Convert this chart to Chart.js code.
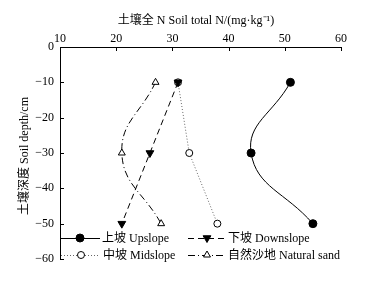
<!DOCTYPE html>
<html>
<head>
<meta charset="utf-8">
<script src="https://cdn.jsdelivr.net/npm/chart.js@4.4.1/dist/chart.umd.min.js"></script>
<style>
  html, body { margin: 0; padding: 0; background: #fff; }
  #wrap { width: 369px; height: 281px; position: relative; }
</style>
</head>
<body>
<div id="wrap"><canvas id="soilChart"></canvas></div>
<script>
const depth = [-10, -30, -50];
const upslope = [51, 44, 55];
const downslope = [31, 26, 21];
const midslope = [31, 33, 38];
const naturalSand = [27, 21, 28];

const xTicks = [10, 20, 30, 40, 50, 60];
const yTicks = [0, -10, -20, -30, -40, -50, -60];

const FONT = '"Liberation Serif", "Times New Roman", "Noto Sans CJK SC", serif';

function toPoints(vals) {
  return vals.map((v, i) => ({ x: v, y: depth[i] }));
}

const series = [
  {
    label: '上坡 Upslope', data: toPoints(upslope), tension: 0.45,
    borderColor: '#000', borderDash: [], pointStyle: 'circle', pointRadius: 4,
    pointBackgroundColor: '#000', pointRotation: 0, order: 3
  },
  {
    label: '中坡 Midslope', data: toPoints(midslope), tension: 0,
    borderColor: '#666', borderDash: [1, 2], pointStyle: 'circle', pointRadius: 3.5,
    pointBackgroundColor: '#fff', pointRotation: 0, order: 2
  },
  {
    label: '自然沙地 Natural sand', data: toPoints(naturalSand), tension: 0.45,
    borderColor: '#000', borderDash: [7, 3, 1, 3], pointStyle: 'triangle', pointRadius: 4,
    pointBackgroundColor: '#fff', pointRotation: 0, order: 1
  },
  {
    label: '下坡 Downslope', data: toPoints(downslope), tension: 0,
    borderColor: '#000', borderDash: [6, 4], pointStyle: 'triangle', pointRadius: 4.5,
    pointBackgroundColor: '#000', pointRotation: 180, order: 0
  }
];

// legend spots inside the plot area (label index -> position)
const legendSpots = [
  { i: 0, x1: 61, x2: 100, mx: 80, tx: 102, y: 238 },
  { i: 3, x1: 188, x2: 224, mx: 207, tx: 228, y: 238 },
  { i: 1, x1: 61, x2: 100, mx: 81, tx: 103, y: 255 },
  { i: 2, x1: 188, x2: 224, mx: 207, tx: 228, y: 255 }
];

const extras = {
  id: 'extras',
  afterDraw(chart) {
    const ctx = chart.ctx;
    const xs = chart.scales.x, ys = chart.scales.y;
    const area = chart.chartArea;
    ctx.save();
    ctx.strokeStyle = '#000';
    ctx.lineWidth = 1;
    ctx.setLineDash([]);
    // inward ticks
    ctx.beginPath();
    xTicks.forEach(v => {
      const px = Math.round(xs.getPixelForValue(v)) + 0.5;
      ctx.moveTo(px, area.top);
      ctx.lineTo(px, area.top + 4);
    });
    yTicks.forEach(v => {
      const py = Math.round(ys.getPixelForValue(v)) + 0.5;
      ctx.moveTo(area.left, py);
      ctx.lineTo(area.left + 4, py);
    });
    ctx.stroke();

    // titles
    ctx.fillStyle = '#000';
    ctx.font = '12px ' + FONT;
    ctx.textAlign = 'center';
    ctx.textBaseline = 'middle';
    ctx.fillText('土壤全 N Soil total N/(mg·kg⁻¹)', 196, 21);
    ctx.save();
    ctx.translate(25, 156);
    ctx.rotate(-Math.PI / 2);
    ctx.fillText('土壤深度 Soil depth/cm', 0, 0);
    ctx.restore();

    // legend
    ctx.textAlign = 'left';
    legendSpots.forEach(s => {
      const d = series[s.i];
      ctx.save();
      ctx.strokeStyle = d.borderColor;
      ctx.setLineDash(d.borderDash);
      ctx.beginPath();
      ctx.moveTo(s.x1, s.y + 0.5);
      ctx.lineTo(s.x2, s.y + 0.5);
      ctx.stroke();
      ctx.restore();
      ctx.save();
      ctx.fillStyle = d.pointBackgroundColor;
      ctx.strokeStyle = '#000';
      ctx.lineWidth = 1;
      ctx.setLineDash([]);
      Chart.helpers.drawPoint(ctx, {
        pointStyle: d.pointStyle, radius: d.pointRadius,
        rotation: d.pointRotation, borderWidth: 1
      }, s.mx, s.y);
      ctx.restore();
      ctx.fillStyle = '#000';
      ctx.fillText(d.label, s.tx, s.y + 1);
    });
    ctx.restore();
  }
};

new Chart(document.getElementById('soilChart'), {
  type: 'line',
  data: {
    datasets: series.map(d => ({
      label: d.label,
      data: d.data,
      tension: d.tension,
      borderColor: d.borderColor,
      borderWidth: 1,
      borderDash: d.borderDash,
      pointStyle: d.pointStyle,
      pointRadius: d.pointRadius,
      pointBackgroundColor: d.pointBackgroundColor,
      pointBorderColor: '#000',
      pointBorderWidth: 1,
      pointRotation: d.pointRotation,
      fill: false,
      order: d.order
    }))
  },
  options: {
    responsive: true,
    maintainAspectRatio: false,
    animation: false,
    layout: { padding: { left: 0, top: 0, right: 28, bottom: 22 } },
    scales: {
      x: {
        type: 'linear',
        position: 'top',
        min: 10,
        max: 60,
        afterFit: s => { s.height = 47; },
        afterBuildTicks: s => { s.ticks = xTicks.map(v => ({ value: v })); },
        ticks: { color: '#000', font: { family: FONT, size: 12 }, padding: 1, maxRotation: 0 },
        grid: { drawOnChartArea: false, drawTicks: false },
        border: { display: true, color: '#000', width: 1 }
      },
      y: {
        type: 'linear',
        position: 'left',
        min: -60,
        max: 0,
        afterFit: s => { s.width = 60; },
        afterBuildTicks: s => { s.ticks = yTicks.map(v => ({ value: v })); },
        ticks: {
          color: '#000', font: { family: FONT, size: 12 }, padding: 6,
          callback: v => (v < 0 ? '\u2212' + Math.abs(v) : String(v))
        },
        grid: { drawOnChartArea: false, drawTicks: false },
        border: { display: true, color: '#000', width: 1 }
      }
    },
    plugins: {
      legend: { display: false },
      tooltip: { enabled: false }
    }
  },
  plugins: [extras]
});
</script>
</body>
</html>
